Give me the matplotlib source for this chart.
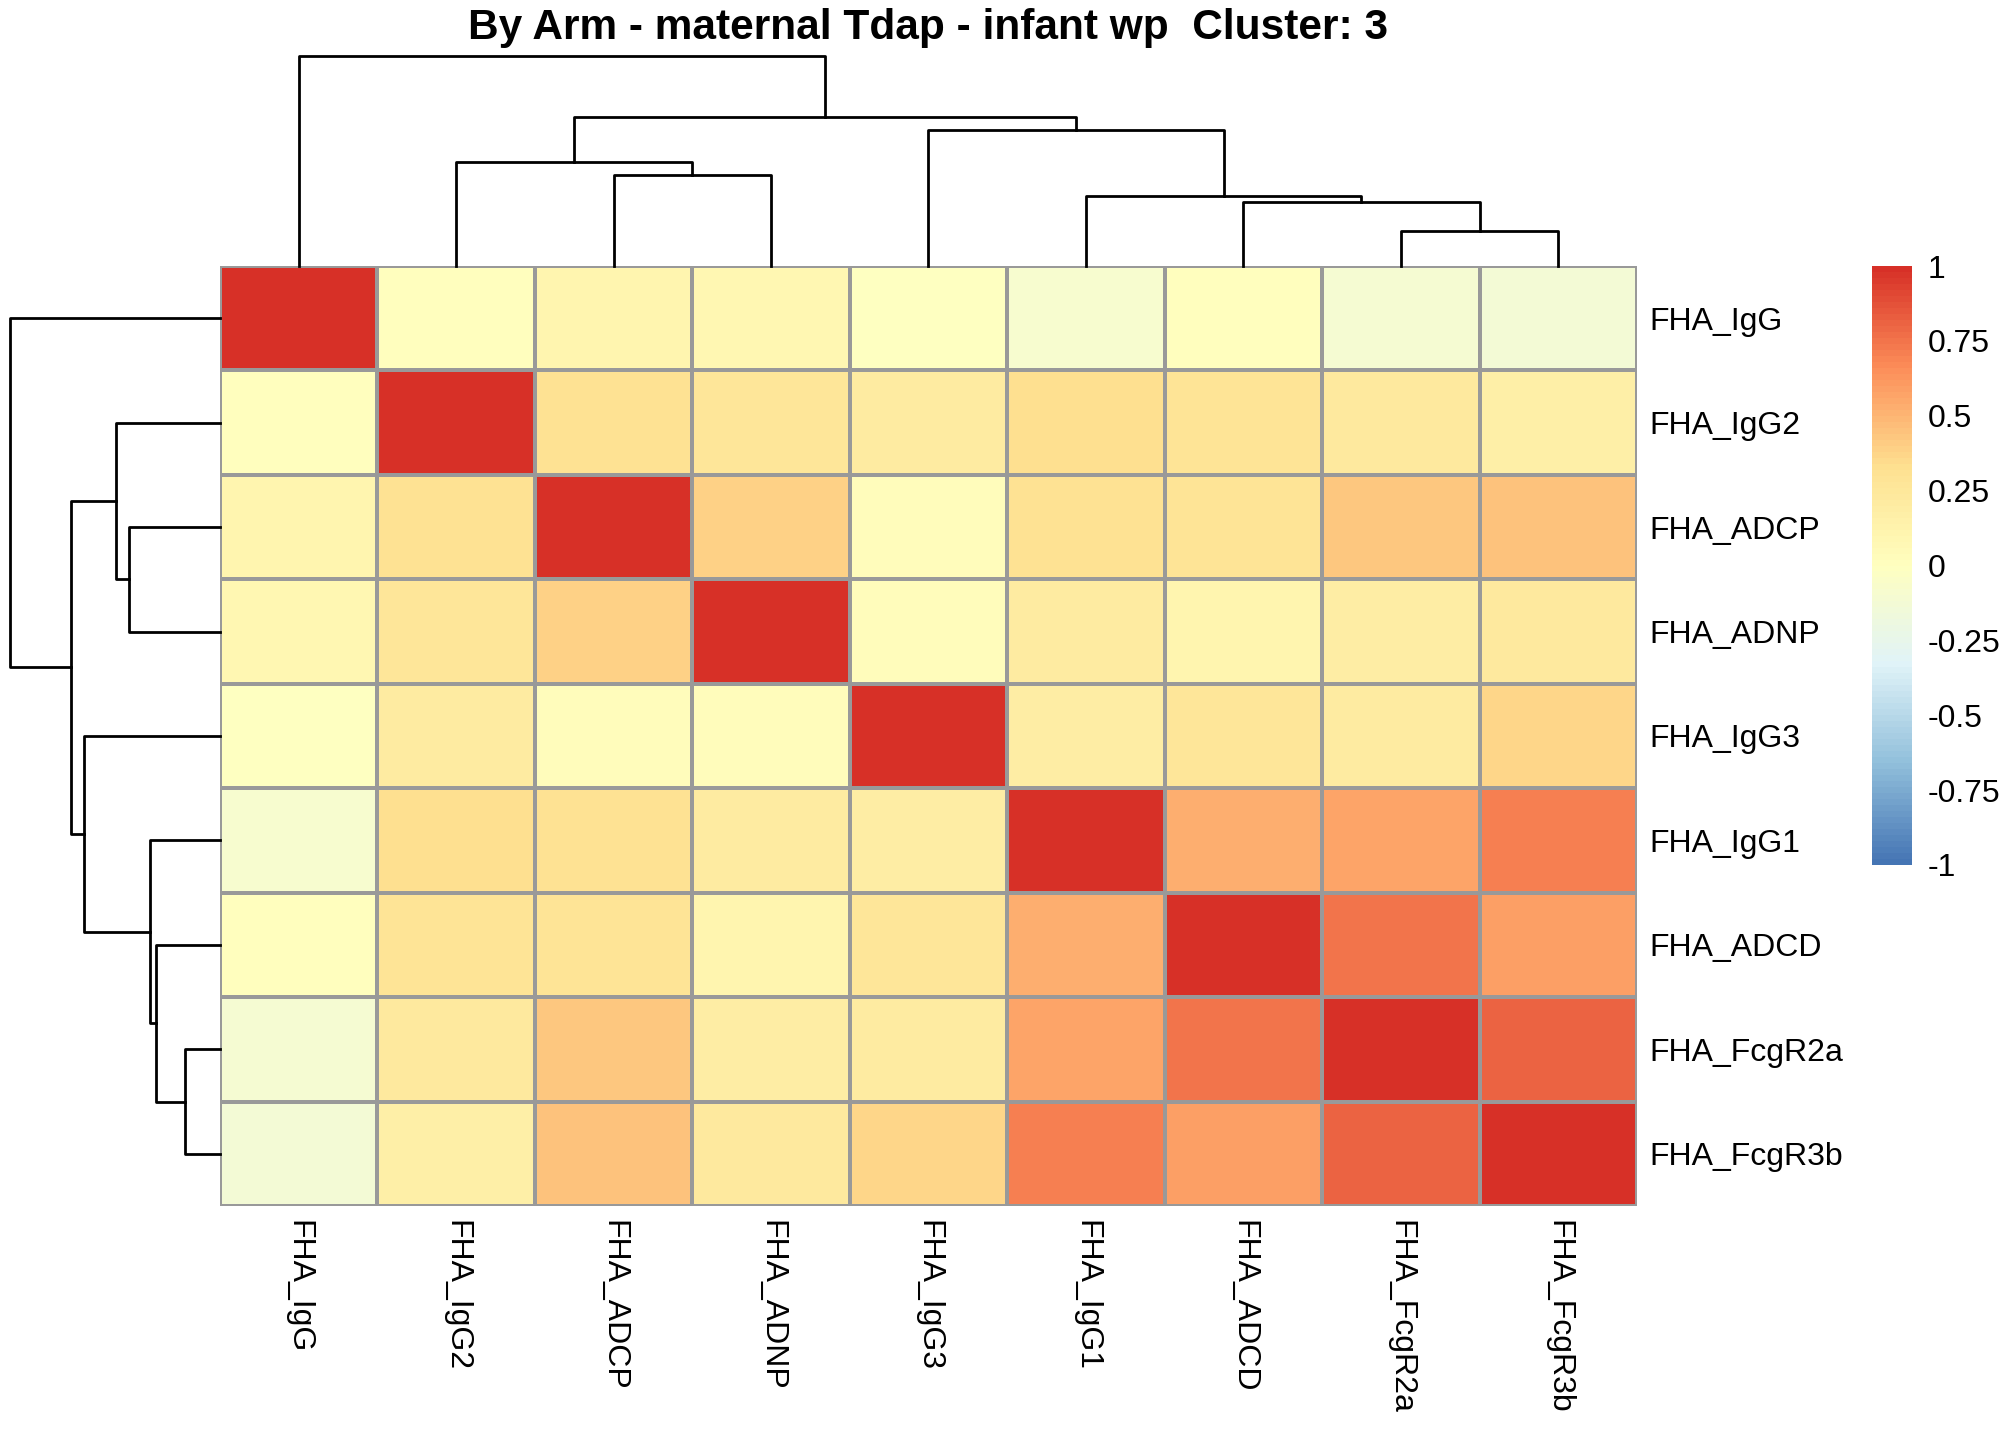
import numpy as np
import matplotlib
matplotlib.use("Agg")
import matplotlib.pyplot as plt
from matplotlib.colors import LinearSegmentedColormap, Normalize
from matplotlib.cm import ScalarMappable

plt.rcParams['font.family'] = ['Liberation Sans', 'DejaVu Sans']
plt.rcParams['axes.unicode_minus'] = False

# features, already in clustered order
features = ['FHA_IgG', 'FHA_IgG2', 'FHA_ADCP', 'FHA_ADNP', 'FHA_IgG3',
            'FHA_IgG1', 'FHA_ADCD', 'FHA_FcgR2a', 'FHA_FcgR3b']

# correlation matrix
corr = np.array([
    [1.00, 0.00, 0.10, 0.08, -0.02, -0.10, 0.00, -0.12, -0.13],
    [0.00, 1.00, 0.30, 0.26, 0.20, 0.33, 0.28, 0.22, 0.17],
    [0.10, 0.30, 1.00, 0.39, 0.02, 0.31, 0.28, 0.42, 0.44],
    [0.08, 0.26, 0.39, 1.00, 0.02, 0.21, 0.10, 0.18, 0.22],
    [-0.02, 0.20, 0.02, 0.02, 1.00, 0.19, 0.27, 0.20, 0.37],
    [-0.10, 0.33, 0.31, 0.21, 0.19, 1.00, 0.52, 0.57, 0.70],
    [0.00, 0.28, 0.28, 0.10, 0.27, 0.52, 1.00, 0.74, 0.58],
    [-0.12, 0.22, 0.42, 0.18, 0.20, 0.57, 0.74, 1.00, 0.82],
    [-0.13, 0.17, 0.44, 0.22, 0.37, 0.70, 0.58, 0.82, 1.00],
])

# hierarchical clustering merges: ids 0-8 are leaves, 9+ are earlier merges
merge_left = [7, 6, 5, 2, 1, 4, 13, 0]
merge_right = [8, 9, 10, 3, 12, 11, 14, 15]
merge_height = [0.355, 0.645, 0.70, 0.915, 1.04, 1.365, 1.495, 2.095]

legend_ticks = [1, 0.75, 0.5, 0.25, 0, -0.25, -0.5, -0.75, -1]
legend_labels = ['1', '0.75', '0.5', '0.25', '0', '-0.25', '-0.5', '-0.75', '-1']

title = 'By Arm - maternal Tdap - infant wp  Cluster: 3'

W, H = 2016, 1440
fig = plt.figure(figsize=(W / 100, H / 100), dpi=100)


def px_axes(x0, y0, x1, y1):
    # pixel box (top-left origin) -> figure axes
    return fig.add_axes([x0 / W, 1 - y1 / H, (x1 - x0) / W, (y1 - y0) / H])


hm_l, hm_r, hm_t, hm_b = 220, 1637, 266, 1206
n = len(features)

palette = ['#4575B4', '#91BFDB', '#E0F3F8', '#FFFFBF', '#FEE090', '#FC8D59', '#D73027']
cmap = LinearSegmentedColormap.from_list('rdylbu_r', palette, N=100)
norm = Normalize(vmin=-1, vmax=1)

# heatmap
ax = px_axes(hm_l, hm_t, hm_r, hm_b)
ax.pcolormesh(np.arange(n + 1), np.arange(n + 1), corr, cmap=cmap, norm=norm,
              edgecolors='#999999', linewidth=1.5)
ax.set_xlim(0, n)
ax.set_ylim(n, 0)
for s in ax.spines.values():
    s.set_visible(False)
ax.set_xticks(np.arange(n) + 0.5)
ax.set_xticklabels(features, rotation=-90, fontsize=23)
ax.set_yticks(np.arange(n) + 0.5)
ax.set_yticklabels(features, fontsize=23)
ax.yaxis.tick_right()
ax.tick_params(axis='both', length=0)
ax.tick_params(axis='x', pad=10)
ax.tick_params(axis='y', pad=9)

# dendrogram coordinates
pos = {i: i + 0.5 for i in range(n)}
hgt = {i: 0.0 for i in range(n)}
segs = []
for k in range(len(merge_height)):
    a, b, h = merge_left[k], merge_right[k], merge_height[k]
    segs.append(([pos[a], pos[a], pos[b], pos[b]], [hgt[a], h, h, hgt[b]]))
    pos[n + k] = (pos[a] + pos[b]) / 2
    hgt[n + k] = h
hmax = max(merge_height)

tree_px = 209.5
axt = px_axes(hm_l, hm_t - tree_px, hm_r, hm_t)
for xs, ys in segs:
    axt.plot(xs, ys, color='black', lw=2.0, clip_on=False, solid_capstyle='projecting')
axt.set_xlim(0, n)
axt.set_ylim(0, hmax)
axt.axis('off')

axl = px_axes(hm_l - tree_px, hm_t, hm_l, hm_b)
for xs, ys in segs:
    axl.plot(ys, xs, color='black', lw=2.0, clip_on=False, solid_capstyle='projecting')
axl.set_ylim(n, 0)
axl.set_xlim(hmax, 0)
axl.axis('off')

# colour legend
cax = px_axes(1872, 266, 1912, 865)
cb = fig.colorbar(ScalarMappable(norm=norm, cmap=cmap), cax=cax)
cb.outline.set_visible(False)
cb.set_ticks(legend_ticks)
cb.set_ticklabels(legend_labels)
cax.tick_params(length=0, labelsize=23, pad=11)

fig.text((hm_l + hm_r) / 2 / W, 1 - 39 / H, title, ha='center', va='baseline',
         fontsize=30.5, fontweight='bold')

fig.savefig('out.png', dpi=100, facecolor='white')
